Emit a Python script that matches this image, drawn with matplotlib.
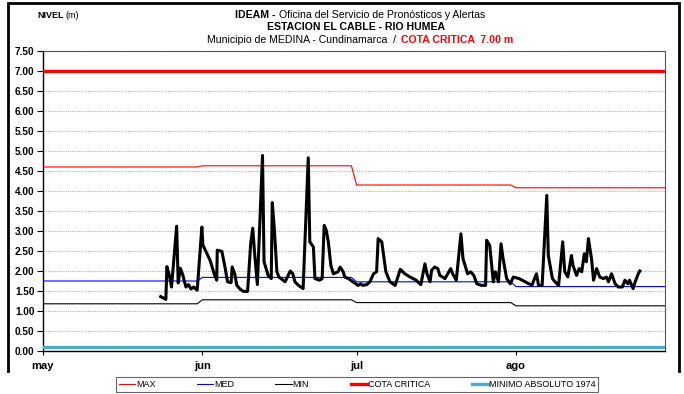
import numpy as np
import matplotlib
matplotlib.use("Agg")
import matplotlib.pyplot as plt
from matplotlib.lines import Line2D

plt.rcParams['font.family'] = ['Liberation Sans', 'DejaVu Sans']

# dias contados desde el 1 de mayo (0 = may 1, 31 = jun 1, 61 = jul 1, 92 = ago 1)
meses = ['may', 'jun', 'jul', 'ago']
inicio_mes = [0, 31, 61, 92]
fin_mes = [30, 60, 91, 121]

# valores mensuales de referencia (m)
nivel_max = [4.60, 4.63, 4.15, 4.08]
nivel_med = [1.75, 1.84, 1.73, 1.61]
nivel_min = [1.18, 1.28, 1.21, 1.13]
cota_critica = 7.00
minimo_absoluto = 0.10

# niveles observados
dias = [22.9, 23.9, 24.1, 24.6, 25.0, 26.0, 26.3, 26.7, 27.2, 27.8, 28.3, 28.8,
        29.3, 30.0, 30.9, 31.1, 32.5, 33.3, 33.8, 33.9, 34.8, 35.4, 35.9, 36.6,
        36.8, 37.3, 37.7, 38.4, 39.0, 39.8, 40.4, 40.8, 41.2, 41.7, 42.7, 43.0,
        43.8, 44.4, 44.6, 45.0, 45.5, 45.9, 46.3, 47.1, 48.1, 48.6, 49.0, 49.7,
        50.6, 51.6, 51.9, 52.6, 52.9, 53.8, 54.3, 54.7, 55.1, 55.5, 56.0, 56.5,
        57.4, 57.8, 58.4, 58.7, 59.4, 60.3, 61.3, 61.8, 62.2, 63.0, 63.6, 64.3,
        64.9, 65.2, 65.9, 66.7, 67.5, 68.5, 69.5, 70.4, 71.4, 72.6, 73.5, 74.3,
        74.7, 75.3, 75.6, 76.2, 76.8, 77.2, 78.2, 79.3, 79.7, 80.4, 81.3, 81.7,
        82.6, 83.2, 83.8, 84.4, 85.3, 86.1, 86.3, 86.9, 87.6, 88.0, 88.6, 89.1,
        89.5, 90.2, 90.9, 91.5, 92.6, 93.8, 95.1, 96.0, 96.4, 97.1, 98.0, 98.3,
        99.1, 99.6, 100.3, 101.1, 101.5, 102.1, 102.8, 103.1, 103.8, 104.3, 104.8,
        105.3, 105.7, 106.1, 106.7, 107.1, 107.7, 108.3, 109.0, 109.6, 110.0,
        110.6, 111.3, 111.9, 112.7, 113.2, 113.8, 114.1, 114.8, 115.2, 115.8, 116.1]
nivel = [1.36, 1.29, 2.11, 1.88, 1.60, 3.12, 1.70, 2.07, 1.90, 1.60, 1.66, 1.55,
         1.60, 1.52, 3.10, 2.65, 2.27, 1.93, 1.77, 2.52, 2.49, 2.10, 1.73, 1.71,
         2.10, 1.93, 1.64, 1.54, 1.49, 1.49, 2.68, 3.07, 2.39, 1.66, 4.89, 2.23,
         1.89, 1.81, 3.71, 3.06, 1.98, 1.85, 1.81, 1.73, 2.00, 1.93, 1.73, 1.64,
         1.56, 4.83, 2.73, 2.60, 1.81, 1.77, 1.81, 3.14, 3.02, 2.73, 2.14, 1.93,
         1.98, 2.10, 1.98, 1.85, 1.81, 1.73, 1.64, 1.68, 1.64, 1.66, 1.73, 1.93,
         1.98, 2.81, 2.73, 1.98, 1.73, 1.64, 2.04, 1.93, 1.85, 1.77, 1.66, 2.18,
         1.93, 1.73, 2.02, 2.10, 2.06, 1.89, 1.81, 2.06, 1.93, 1.77, 2.93, 2.31,
         1.93, 1.98, 1.89, 1.68, 1.64, 1.64, 2.77, 2.64, 1.73, 1.98, 1.73, 2.68,
         2.31, 1.81, 1.68, 1.85, 1.81, 1.73, 1.64, 1.93, 1.64, 1.64, 3.89, 2.39,
         1.81, 1.73, 1.64, 2.73, 1.98, 1.85, 2.39, 2.14, 1.89, 2.06, 1.98,
         2.43, 2.23, 2.81, 2.31, 1.77, 2.06, 1.85, 1.81, 1.85, 1.73,
         1.93, 1.68, 1.60, 1.60, 1.77, 1.68, 1.77, 1.56, 1.73, 1.93, 2.00]


def escalones(valores):
    # una linea horizontal por mes, unida al mes siguiente
    xs, ys = [], []
    for a, b, v in zip(inicio_mes, fin_mes, valores):
        xs += [a, b]
        ys += [v, v]
    return xs, ys


W, H = 684, 394
fig = plt.figure(figsize=(W / 100, H / 100), dpi=100)
ax = fig.add_axes([43 / W, 1 - 351 / H, (665 - 43) / W, (351 - 51) / H])

ax.set_ylim(0, 7.5)
ax.set_xlim(0, 121)
ax.set_yticks(np.arange(0, 7.51, 0.5))
ax.set_yticklabels(['%.2f' % v for v in np.arange(0, 7.51, 0.5)],
                   fontsize=7.2, fontweight='bold')
ax.set_xticks(inicio_mes)
ax.set_xticklabels(meses, fontsize=8, fontweight='bold')
ax.tick_params(axis='y', length=4, width=0.8, pad=2, direction='out')
ax.tick_params(axis='x', length=3, width=0.8, pad=4, direction='out')
ax.grid(axis='y', color='#b4b4b4', linestyle=(0, (1, 1)), linewidth=0.8)
ax.set_axisbelow(True)
for s in ['top', 'right']:
    ax.spines[s].set_color('#555555')
    ax.spines[s].set_linewidth(0.8)
for s in ['left', 'bottom']:
    ax.spines[s].set_color('black')
    ax.spines[s].set_linewidth(1.0)

ax.axhline(cota_critica, color='#ff0000', lw=2.4, zorder=3)
ax.axhline(minimo_absoluto, color='#4bacc6', lw=2.4, zorder=3)
ax.plot(*escalones(nivel_max), color='#ff0000', lw=0.8, zorder=3)
ax.plot(*escalones(nivel_med), color='#0000ff', lw=0.8, zorder=3)
ax.plot(*escalones(nivel_min), color='black', lw=0.8, zorder=3)
ax.plot(dias, nivel, color='black', lw=2.2, solid_joinstyle='round', zorder=4)

# marco exterior abierto por debajo
fx = [8 / W, 8 / W, 679 / W, 679 / W]
fy = [1 - 371 / H, 1 - 3 / H, 1 - 3 / H, 1 - 371 / H]
fig.add_artist(Line2D(fx, fy, transform=fig.transFigure, color='black',
                      lw=2.0, solid_joinstyle='miter'))

renderer = fig.canvas.get_renderer()


def texto_mixto(y, partes, xc=None, x0=None, gap=3):
    objs = [fig.text(0, y, s, va='center', **kw) for s, kw in partes]
    anchos = [t.get_window_extent(renderer).width for t in objs]
    total = sum(anchos) + gap * (len(objs) - 1)
    x = x0 if x0 is not None else xc - total / 2
    for t, w in zip(objs, anchos):
        t.set_x(x / W)
        x += w + gap


texto_mixto(1 - 15 / H, [('NIVEL', dict(fontsize=6.5, fontweight='bold')),
                         ('(m)', dict(fontsize=6.5))], x0=37, gap=2)
texto_mixto(1 - 15 / H, [('IDEAM -', dict(fontsize=7.6, fontweight='bold')),
                         ('Oficina del Servicio de Pronósticos y Alertas',
                          dict(fontsize=7.6))], xc=360)
texto_mixto(1 - 27.5 / H, [('ESTACION EL CABLE - RIO HUMEA',
                            dict(fontsize=7.6, fontweight='bold'))], xc=356)
texto_mixto(1 - 40 / H, [('Municipio de MEDINA - Cundinamarca  /', dict(fontsize=7.6)),
                         ('COTA CRITICA  7.00 m',
                          dict(fontsize=7.6, fontweight='bold', color='#ff0000'))],
            xc=360, gap=5)

handles = [Line2D([], [], color='#ff0000', lw=0.8),
           Line2D([], [], color='#0000ff', lw=0.8),
           Line2D([], [], color='black', lw=0.8),
           Line2D([], [], color='#ff0000', lw=2.4),
           Line2D([], [], color='#4bacc6', lw=2.4)]
etiquetas = ['MAX', 'MED', 'MIN', 'COTA CRITICA', 'MINIMO ABSOLUTO 1974']
leg = fig.legend(handles, etiquetas, ncol=5, loc='center',
                 bbox_to_anchor=(357 / W, 1 - 384.5 / H), fontsize=6.5,
                 frameon=True, fancybox=False, handlelength=1.8,
                 handletextpad=0.1, columnspacing=4.6, borderpad=0.3)
leg.get_frame().set_edgecolor('#404040')
leg.get_frame().set_linewidth(0.8)

fig.savefig('out.png', dpi=100)
